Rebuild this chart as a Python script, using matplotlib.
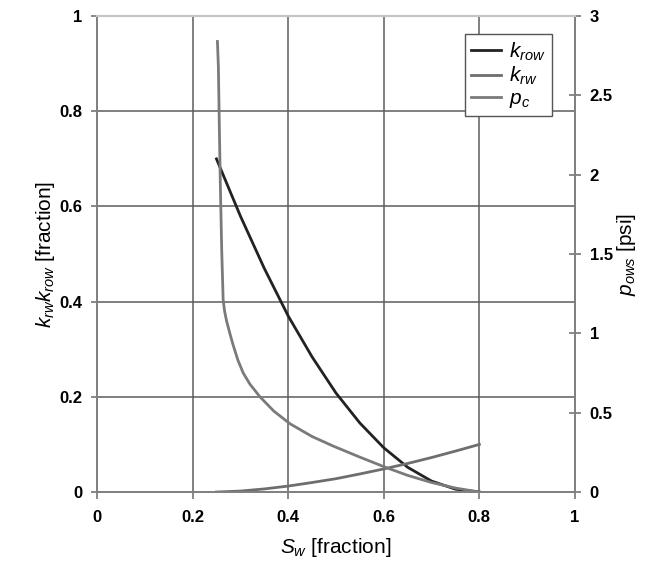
import matplotlib
matplotlib.use('Agg')
import matplotlib.pyplot as plt

plt.rcParams['font.family'] = ['Liberation Sans', 'DejaVu Sans']
plt.rcParams['mathtext.fontset'] = 'custom'
plt.rcParams['mathtext.rm'] = 'Liberation Sans'
plt.rcParams['mathtext.it'] = 'Liberation Sans:italic'

# water saturation grid for the relative permeabilities
sw = [0.25, 0.30, 0.35, 0.40, 0.45, 0.50, 0.55, 0.60, 0.65, 0.70, 0.75, 0.80]
krow = [0.70, 0.58, 0.47, 0.37, 0.284, 0.208, 0.145, 0.093, 0.052, 0.023, 0.006, 0.0]
krw = [0.0, 0.002, 0.0065, 0.0125, 0.020, 0.028, 0.038, 0.0485, 0.060, 0.0725, 0.086, 0.10]

# capillary pressure curve [psi]
sw_pc = [0.252, 0.254, 0.256, 0.258, 0.261, 0.264, 0.267, 0.271, 0.278, 0.285, 0.295,
         0.306, 0.32, 0.341, 0.37, 0.404, 0.45, 0.494, 0.55, 0.60, 0.65, 0.70, 0.75, 0.80]
pc = [2.84, 2.68, 2.30, 1.95, 1.52, 1.21, 1.14, 1.08, 1.00, 0.925, 0.83,
      0.75, 0.68, 0.60, 0.51, 0.43, 0.35, 0.29, 0.22, 0.16, 0.105, 0.06, 0.025, 0.0]

xticks = [0, 0.2, 0.4, 0.6, 0.8, 1]
yticks = [0, 0.2, 0.4, 0.6, 0.8, 1]
y2ticks = [0, 0.5, 1, 1.5, 2, 2.5, 3]

fig = plt.figure(figsize=(6.67, 5.75), dpi=100)
ax = fig.add_axes([0.1454, 0.1443, 0.7166, 0.8277])
ax2 = ax.twinx()

gridc = '#5c5c5c'
for v in xticks[1:-1]:
    ax.axvline(v, color=gridc, lw=1.1, zorder=0)
for v in yticks[1:-1]:
    ax.axhline(v, color=gridc, lw=1.1, zorder=0)

l1, = ax.plot(sw, krow, color='#222222', lw=2.0, label=r'$k_{row}$')
l2, = ax.plot(sw, krw, color='#6e6e6e', lw=2.0, label=r'$k_{rw}$')
l3, = ax2.plot(sw_pc, pc, color='#7a7a7a', lw=2.0, label=r'$p_c$')

ax.set_xlim(0, 1)
ax.set_ylim(0, 1)
ax2.set_ylim(0, 3)
ax.set_xticks(xticks)
ax.set_xticklabels(['0', '0.2', '0.4', '0.6', '0.8', '1'], fontweight='bold', fontsize=12)
ax.set_yticks(yticks)
ax.set_yticklabels(['0', '0.2', '0.4', '0.6', '0.8', '1'], fontweight='bold', fontsize=12)
ax2.set_yticks(y2ticks)
ax2.set_yticklabels(['0', '0.5', '1', '1.5', '2', '2.5', '3'], fontweight='bold', fontsize=12)

for a in (ax, ax2):
    for s in ['left', 'right', 'bottom']:
        a.spines[s].set_color('#808080')
        a.spines[s].set_linewidth(1.3)
    a.spines['top'].set_color('#c4c4c4')
    a.spines['top'].set_linewidth(1.5)
ax.tick_params(axis='y', direction='inout', length=9, color='#808080', width=1.3, pad=6)
ax.tick_params(axis='x', direction='out', length=5, color='#808080', width=1.3, pad=8)
ax2.tick_params(axis='y', direction='inout', length=9, color='#808080', width=1.3, pad=6)

ax.set_xlabel(r'$S_w$ [fraction]', fontsize=15, labelpad=8)
ax.set_ylabel(r'$k_{rw}k_{row}$ [fraction]', fontsize=15, labelpad=2)
ax2.set_ylabel(r'$p_{ows}$ [psi]', fontsize=15, labelpad=2)

leg = ax2.legend(handles=[l1, l2, l3], loc='upper right', bbox_to_anchor=(0.952, 0.962),
                 fontsize=15, fancybox=False, framealpha=1, edgecolor='#555555',
                 handlelength=1.4, handletextpad=0.4, borderpad=0.3, labelspacing=0.1,
                 borderaxespad=0)
leg.get_frame().set_linewidth(1.0)

fig.savefig('out.png', dpi=100)
